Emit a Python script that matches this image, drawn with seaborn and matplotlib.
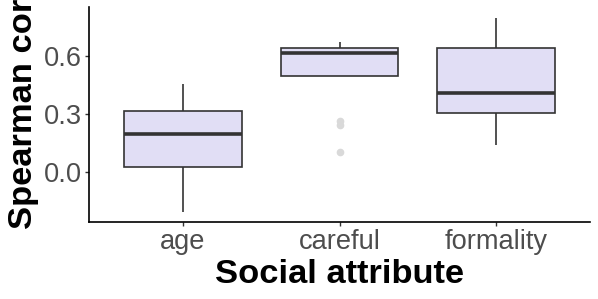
import matplotlib
matplotlib.use("Agg")
import matplotlib.pyplot as plt
import seaborn as sns
import pandas as pd

categories = ["age", "careful", "formality"]
age_values = [-0.207, 0.026, 0.198, 0.319, 0.455]
careful_values = [0.103, 0.245, 0.267, 0.498, 0.55, 0.59, 0.616, 0.625, 0.632, 0.641, 0.65, 0.66, 0.672]
formality_values = [0.141, 0.308, 0.409, 0.641, 0.80]
y_ticks = [0.0, 0.3, 0.6]
y_tick_labels = ["0.0", "0.3", "0.6"]

rows = []
for cat, vals in zip(categories, [age_values, careful_values, formality_values]):
    for v in vals:
        rows.append({"attribute": cat, "rho": v})
df = pd.DataFrame(rows)

sns.set_theme(style="ticks")
plt.rcParams["font.family"] = ["Liberation Sans", "DejaVu Sans"]

W, H = 598, 299
fig = plt.figure(figsize=(W / 100, H / 100), dpi=100)
left, right, top, bottom = 89, 590, 7.3, 221.7
ax = fig.add_axes([left / W, 1 - bottom / H, (right - left) / W, (bottom - top) / H])

sns.boxplot(
    data=df, x="attribute", y="rho", order=categories, ax=ax,
    width=0.75, color="#E1DEF5", saturation=1,
    linecolor="#333333", linewidth=1.2, showcaps=False,
    medianprops={"color": "#333333", "linewidth": 2.6},
    flierprops={"marker": "o", "markerfacecolor": "#D9D9D9", "markeredgecolor": "#D9D9D9", "markersize": 4.5},
    whis=1.5,
)

ax.set_xlim(-0.6, 2.6)
ax.set_ylim(-0.256, 0.854)
ax.set_yticks(y_ticks)
ax.set_yticklabels(y_tick_labels)
ax.tick_params(axis="both", labelsize=19.6, labelcolor="#4D4D4D", color="#333333", length=3, width=1, pad=2)
for s in ["top", "right"]:
    ax.spines[s].set_visible(False)
for s in ["left", "bottom"]:
    ax.spines[s].set_color("black")
    ax.spines[s].set_linewidth(1.2)

ax.set_xlabel("")
ax.set_ylabel("")
fig.text(339.5 / W, 1 - 283 / H, "Social attribute", ha="center", va="baseline",
         fontsize=24.8, fontweight="bold", color="black")
fig.text(24 / W, 1 - 229 / H, "Spearman correlation", rotation=90, ha="center", va="bottom",
         fontsize=24.8, fontweight="bold", color="black")

fig.savefig("out.png", dpi=100)
